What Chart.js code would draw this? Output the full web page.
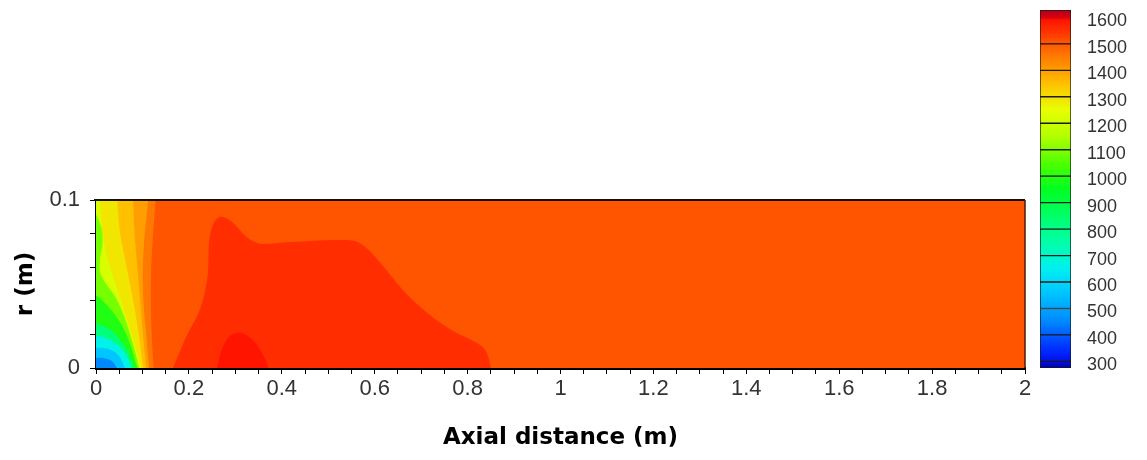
<!DOCTYPE html>
<html>
<head>
<meta charset="utf-8">
<script src="https://cdn.jsdelivr.net/npm/chart.js@4.4.1/dist/chart.umd.min.js"></script>
<style>
  html, body { margin: 0; padding: 0; background: #fff; }
  #wrap { position: relative; width: 1147px; height: 460px; }
  #campo { position: absolute; left: 0; top: 0; }
  #escala { position: absolute; left: 1000px; top: 0; }
</style>
</head>
<body>
<div id="wrap">
  <canvas id="campo" width="1147" height="460"></canvas>
  <canvas id="escala" width="147" height="460"></canvas>
</div>
<script>
// ======================
// CAMPO DE TEMPERATURA (K) NO QUEIMADOR
// ======================

// ---------- eixos ----------
const xRotulos = [0, 0.2, 0.4, 0.6, 0.8, 1, 1.2, 1.4, 1.6, 1.8, 2];
const rRotulos = [0, 0.1];
const escalaRotulos = [300, 400, 500, 600, 700, 800, 900, 1000, 1100, 1200, 1300, 1400, 1500, 1600];
const escalaFaixas = [275, 300, 400, 500, 600, 700, 800, 900, 1000, 1100, 1200, 1300, 1400, 1500, 1628];

// ---------- temperaturas das regiões ----------
const tNucleo = 1505;
const tQuente = 1555;
const tMaxima = 1590;
const tEntrada = [1455, 1400, 1350, 1290, 1220, 1090, 990, 820, 660, 560, 450];

// ---------- contornos [x (m), r (m)] ----------
const dominio = [[0, 0], [2, 0], [2, 0.1], [0, 0.1]];

const contornoQuente = [
  [0.166, 0], [0.195, 0.019], [0.224, 0.035], [0.240, 0.054], [0.244, 0.076],
  [0.253, 0.086], [0.268, 0.090], [0.292, 0.087], [0.324, 0.078], [0.353, 0.074],
  [0.418, 0.075], [0.547, 0.076], [0.575, 0.073], [0.611, 0.063], [0.662, 0.046],
  [0.712, 0.033], [0.762, 0.023], [0.812, 0.016], [0.837, 0.011], [0.850, 0],
];

const contornoMaximo = [
  [0.260, 0], [0.271, 0.011], [0.288, 0.019], [0.310, 0.021],
  [0.332, 0.018], [0.353, 0.011], [0.371, 0],
];

// da parede de entrada (x = 0) para dentro, de r = 0 para cima
const contornosEntrada = [
  [[0.124, 0], [0.120, 0.02], [0.118, 0.04], [0.119, 0.06], [0.123, 0.08], [0.128, 0.1]],
  [[0.114, 0], [0.108, 0.02], [0.102, 0.04], [0.101, 0.06], [0.105, 0.08], [0.112, 0.1]],
  [[0.108, 0], [0.101, 0.02], [0.095, 0.04], [0.089, 0.06], [0.083, 0.08], [0.080, 0.1]],
  [[0.101, 0], [0.092, 0.02], [0.080, 0.04], [0.066, 0.06], [0.052, 0.08], [0.046, 0.1]],
  [[0.096, 0], [0.082, 0.015], [0.066, 0.03], [0.048, 0.045], [0.030, 0.06], [0.017, 0.075], [0.011, 0.09], [0.008, 0.1]],
  [[0.093, 0], [0.082, 0.012], [0.069, 0.024], [0.056, 0.034], [0.040, 0.043], [0.022, 0.050],
   [0.009, 0.057], [0.009, 0.066], [0.014, 0.074], [0.012, 0.083], [0.004, 0.089], [0, 0.091]],
  [[0.089, 0], [0.076, 0.012], [0.060, 0.023], [0.040, 0.032], [0.018, 0.039], [0, 0.043]],
  [[0.082, 0], [0.068, 0.010], [0.048, 0.018], [0.024, 0.024], [0, 0.026]],
  [[0.076, 0], [0.064, 0.008], [0.044, 0.014], [0.020, 0.018], [0, 0.019]],
  [[0.062, 0], [0.050, 0.007], [0.030, 0.011], [0.010, 0.012], [0, 0.012]],
  [[0.045, 0], [0.035, 0.004], [0.015, 0.006], [0, 0.006]],
];

// ---------- mapa de cores ----------
const mapaCores = [
  [275, "#0000a0"], [300, "#0010f0"], [350, "#0030ff"], [450, "#0088ff"],
  [550, "#00c0ff"], [650, "#00f0f0"], [750, "#00ffa8"], [850, "#00ff68"],
  [950, "#00ff20"], [1050, "#50ff00"], [1150, "#b0ff00"], [1250, "#e8ff00"],
  [1350, "#ffc000"], [1450, "#ff7c00"], [1500, "#ff5800"], [1550, "#ff3000"],
  [1590, "#ff1400"], [1600, "#d8000f"], [1628, "#b0001c"],
];

function hexRgb(h) {
  const n = parseInt(h.slice(1), 16);
  return [n >> 16, (n >> 8) & 255, n & 255];
}

function corDaTemperatura(t) {
  if (t <= mapaCores[0][0]) return mapaCores[0][1];
  for (let i = 1; i < mapaCores.length; i++) {
    const [t1, c1] = mapaCores[i];
    if (t <= t1) {
      const [t0, c0] = mapaCores[i - 1];
      const f = (t - t0) / (t1 - t0);
      const a = hexRgb(c0), b = hexRgb(c1);
      const rgb = a.map((v, k) => Math.round(v + (b[k] - v) * f));
      return `rgb(${rgb.join(",")})`;
    }
  }
  return mapaCores[mapaCores.length - 1][1];
}

// ---------- fechamento dos contornos fora da área ----------
const FORA = 0.05;

function fecharNoEixo(curva) {
  const ini = curva[0], fim = curva[curva.length - 1];
  return [...curva, [fim[0], -0.01], [ini[0], -0.01]];
}

function fecharNaParede(curva) {
  const ini = curva[0], fim = curva[curva.length - 1];
  const pts = [...curva];
  if (fim[0] > 0) pts.push([fim[0], 0.12], [-FORA, 0.12]);
  else pts.push([-FORA, fim[1]]);
  pts.push([-FORA, -0.02], [ini[0], -0.02]);
  return pts;
}

// ---------- regiões (de fora para dentro) ----------
const regioes = [
  { t: tNucleo, pts: dominio, tension: 0 },
  { t: tQuente, pts: fecharNoEixo(contornoQuente), tension: 0.35 },
  { t: tMaxima, pts: fecharNoEixo(contornoMaximo), tension: 0.35 },
  ...contornosEntrada.map((c, i) => ({ t: tEntrada[i], pts: fecharNaParede(c), tension: 0.35 })),
];

// o Chart.js desenha o primeiro dataset por cima, então inverte
const datasets = regioes
  .map((r) => ({
    data: r.pts.map(([x, y]) => ({ x, y })),
    backgroundColor: corDaTemperatura(r.t),
    borderWidth: 0,
    pointRadius: 0,
    fill: "shape",
    tension: r.tension,
  }))
  .reverse();

const fonteTicks = { family: "'Liberation Sans', Arial, sans-serif", size: 22 };
const fonteTitulo = { family: "'DejaVu Sans', sans-serif", size: 23, weight: "bold" };
const corTexto = "#333";

function ehRotulo(lista, v) {
  return lista.find((r) => Math.abs(r - v) < 1e-6);
}

// ---------- moldura superior e direita ----------
const moldura = {
  id: "moldura",
  afterDatasetsDraw(chart) {
    const { ctx, chartArea: a } = chart;
    ctx.save();
    ctx.strokeStyle = "#111";
    ctx.lineWidth = 2;
    ctx.beginPath();
    ctx.moveTo(a.left - 2, a.top);
    ctx.lineTo(a.right, a.top);
    ctx.stroke();
    ctx.strokeStyle = "#4a1a0a";
    ctx.lineWidth = 1.5;
    ctx.beginPath();
    ctx.moveTo(a.right, a.top);
    ctx.lineTo(a.right, a.bottom);
    ctx.stroke();
    ctx.restore();
  },
};

new Chart(document.getElementById("campo"), {
  type: "line",
  data: { datasets },
  options: {
    responsive: false,
    animation: false,
    events: [],
    layout: { padding: { top: 200, right: 122, left: 0, bottom: 0 } },
    plugins: {
      legend: { display: false },
      tooltip: { enabled: false },
    },
    scales: {
      x: {
        type: "linear",
        min: 0,
        max: 2,
        z: 1,
        afterFit: (s) => { s.height = 92; },
        ticks: {
          stepSize: 0.05,
          autoSkip: false,
          maxRotation: 0,
          padding: 2,
          color: corTexto,
          font: fonteTicks,
          callback: (v) => {
            const r = ehRotulo(xRotulos, v);
            return r === undefined ? "" : String(r);
          },
        },
        grid: { drawOnChartArea: false, drawTicks: true, tickLength: 6, tickColor: "#000" },
        border: { display: true, color: "#000", width: 3 },
        title: {
          display: true,
          text: "Axial distance (m)",
          color: "#000",
          font: fonteTitulo,
          padding: { top: 0, bottom: 8 },
        },
      },
      y: {
        type: "linear",
        min: 0,
        max: 0.1,
        z: 1,
        afterFit: (s) => { s.width = 96; },
        ticks: {
          stepSize: 0.02,
          autoSkip: false,
          padding: 10,
          color: corTexto,
          font: fonteTicks,
          callback: (v) => {
            const r = ehRotulo(rRotulos, v);
            return r === undefined ? "" : String(r);
          },
        },
        grid: { drawOnChartArea: false, drawTicks: true, tickLength: 6, tickColor: "#000" },
        border: { display: true, color: "#000", width: 3 },
        title: {
          display: true,
          text: "r (m)",
          color: "#000",
          font: fonteTitulo,
          padding: { top: 12, bottom: 0 },
        },
      },
    },
  },
  plugins: [moldura],
});

// ---------- barra de cores ----------
function gradienteFaixa(context, lo, hi) {
  const { chart } = context;
  if (!chart.chartArea || !chart.scales.y) return corDaTemperatura((lo + hi) / 2);
  const y = chart.scales.y;
  const y0 = y.getPixelForValue(lo);
  const y1 = y.getPixelForValue(hi);
  const g = chart.ctx.createLinearGradient(0, y0, 0, y1);
  const n = Math.max(2, Math.ceil((hi - lo) / 10));
  for (let i = 0; i <= n; i++) {
    g.addColorStop(i / n, corDaTemperatura(lo + ((hi - lo) * i) / n));
  }
  return g;
}

const faixas = escalaFaixas.slice(0, -1).map((lo, i) => [lo, escalaFaixas[i + 1]]);

new Chart(document.getElementById("escala"), {
  type: "bar",
  data: {
    labels: [""],
    datasets: faixas.map(([lo, hi]) => ({
      data: [[lo, hi]],
      backgroundColor: (ctx) => gradienteFaixa(ctx, lo, hi),
      borderColor: "#1a1a1a",
      borderWidth: 1,
      borderSkipped: false,
      grouped: false,
      barPercentage: 1,
      categoryPercentage: 1,
    })),
  },
  options: {
    responsive: false,
    animation: false,
    events: [],
    layout: { padding: { left: 40, top: 10, bottom: 92, right: 0 } },
    plugins: {
      legend: { display: false },
      tooltip: { enabled: false },
    },
    scales: {
      x: { display: false },
      y: {
        position: "right",
        min: escalaFaixas[0],
        max: escalaFaixas[escalaFaixas.length - 1],
        afterBuildTicks: (s) => { s.ticks = escalaRotulos.map((v) => ({ value: v })); },
        afterFit: (s) => {
          s.width = 76;
          s.paddingTop = 0;
          s.paddingBottom = 0;
        },
        grid: { display: false, drawTicks: false },
        border: { display: false },
        ticks: {
          padding: 16,
          labelOffset: 4,
          color: corTexto,
          font: { family: "'Liberation Sans', Arial, sans-serif", size: 18 },
          callback: (v) => String(v),
        },
      },
    },
  },
});
</script>
</body>
</html>
